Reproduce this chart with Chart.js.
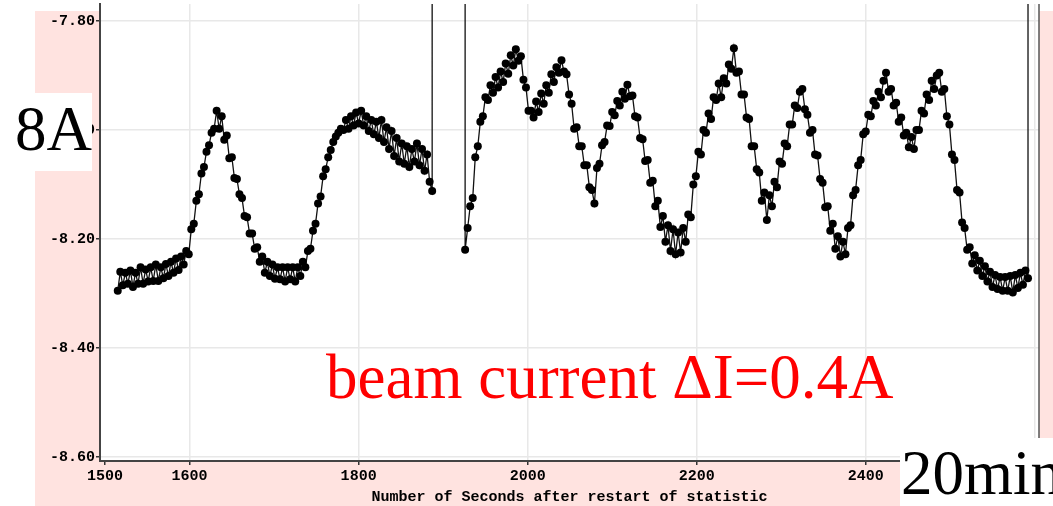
<!DOCTYPE html>
<html>
<head>
<meta charset="utf-8">
<script src="https://cdn.jsdelivr.net/npm/chart.js@4"></script>
<style>
  html, body { margin: 0; padding: 0; background: #fff; }
  #wrap { position: relative; width: 1053px; height: 506px; overflow: hidden; }
  #chart { position: absolute; left: 0; top: 0; }
  .note { position: absolute; font-family: "Liberation Serif", "Times New Roman", serif; font-size: 63px; line-height: 63px; white-space: nowrap; }
  .box { position: absolute; background: #fff; }
</style>
</head>
<body>
<div id="wrap">
  <canvas id="chart" width="1053" height="506"></canvas>
  <div class="box" style="left:0; top:93px; width:92px; height:78px;"></div>
  <div class="note" style="left:15px; top:98px; color:#000;">8A</div>
  <div class="box" style="left:900px; top:438px; width:153px; height:68px;"></div>
  <div class="note" style="left:901px; top:442px; color:#000;">20min</div>
  <div class="note" style="left:326px; top:346px; color:#ff0000;">beam current ΔI=0.4A</div>
</div>
<script>
// seconds after restart, one reading every 3 s
const stepSec = 3;
const seg1Start = 1515;
const seg2Start = 1926;

// beam current readings before the interruption
const seg1Values = [
  -8.295, -8.26, -8.285, -8.262, -8.282, -8.258, -8.288, -8.262, -8.282, -8.252,
  -8.282, -8.256, -8.278, -8.252, -8.277, -8.247, -8.277, -8.252, -8.272, -8.246,
  -8.268, -8.242, -8.262, -8.236, -8.257, -8.232, -8.247, -8.222, -8.228, -8.182,
  -8.172, -8.13, -8.118, -8.08, -8.068, -8.04, -8.028, -8.005, -7.998, -7.965,
  -7.998, -7.975, -8.018, -8.01, -8.052, -8.05, -8.088, -8.09, -8.118, -8.125,
  -8.158, -8.16, -8.19, -8.19, -8.218, -8.215, -8.242, -8.232, -8.262, -8.242,
  -8.268, -8.247, -8.273, -8.252, -8.274, -8.252, -8.278, -8.252, -8.274, -8.252,
  -8.278, -8.252, -8.268, -8.242, -8.252, -8.222, -8.218, -8.185, -8.172, -8.135,
  -8.122, -8.085, -8.072, -8.05, -8.037, -8.022, -8.012, -8.005, -7.998, -8.0,
  -7.982, -7.998, -7.975, -7.992, -7.968, -7.988, -7.965, -7.992, -7.975, -8.002,
  -7.982, -8.008, -7.985, -8.015, -7.982, -8.022, -7.995, -8.035, -8.002, -8.048,
  -8.015, -8.058, -8.025, -8.062, -8.03, -8.068, -8.035, -8.058, -8.025, -8.065,
  -8.035, -8.075, -8.045, -8.095, -8.112
];

// beam current readings after the restart
const seg2Values = [
  -8.22, -8.18, -8.14, -8.125, -8.05, -8.03, -7.985, -7.975, -7.94, -7.945,
  -7.918, -7.932, -7.903, -7.922, -7.893, -7.912, -7.878, -7.897, -7.863, -7.882,
  -7.852, -7.873, -7.865, -7.908, -7.922, -7.965, -7.965, -7.977, -7.948, -7.967,
  -7.933, -7.952, -7.918, -7.932, -7.898, -7.912, -7.885, -7.895, -7.872, -7.893,
  -7.898, -7.935, -7.952, -7.998, -7.995, -8.03, -8.03, -8.065, -8.065, -8.105,
  -8.11, -8.135, -8.07, -8.062, -8.028, -8.022, -7.992, -7.993, -7.967, -7.973,
  -7.947, -7.955, -7.93, -7.943, -7.917, -7.938, -7.937, -7.975, -7.977, -8.015,
  -8.017, -8.057, -8.055, -8.097, -8.093, -8.14, -8.13, -8.178, -8.158, -8.205,
  -8.175, -8.222, -8.182, -8.228, -8.188, -8.225, -8.18, -8.205, -8.155, -8.16,
  -8.1, -8.085, -8.04, -8.045, -8.0, -8.005, -7.97, -7.98, -7.94, -7.945,
  -7.915, -7.94, -7.905, -7.915, -7.88, -7.888, -7.85, -7.895, -7.893, -7.935,
  -7.935, -7.977, -7.98, -8.03, -8.03, -8.072, -8.078, -8.13, -8.115, -8.165,
  -8.12, -8.14, -8.095, -8.105, -8.058, -8.062, -8.025, -8.03, -7.99, -7.99,
  -7.955, -7.96, -7.93, -7.925, -7.962, -7.972, -8.005, -8.0, -8.045, -8.047,
  -8.09, -8.097, -8.142, -8.14, -8.185, -8.172, -8.218, -8.195, -8.232, -8.205,
  -8.228, -8.18, -8.175, -8.12, -8.11, -8.065, -8.055, -8.008, -8.003, -7.972,
  -7.975, -7.947, -7.955, -7.93, -7.94, -7.91, -7.895, -7.93, -7.925, -7.955,
  -7.95, -7.985, -7.977, -8.01, -8.005, -8.032, -8.013, -8.035, -8.0, -8.0,
  -7.965, -7.97, -7.935, -7.945, -7.91, -7.925, -7.9, -7.895, -7.93, -7.925,
  -7.975, -7.99, -8.045, -8.055, -8.11, -8.115, -8.17, -8.18, -8.22, -8.215,
  -8.245, -8.23, -8.258, -8.24, -8.268, -8.25, -8.278, -8.26, -8.288, -8.266,
  -8.292, -8.27, -8.295, -8.27, -8.295, -8.268, -8.298, -8.266, -8.29, -8.262,
  -8.284, -8.258, -8.272
];

// the logger jumps off scale when the statistic is interrupted
const offScale = -7.0;

const xTicks = [1500, 1600, 1800, 2000, 2200, 2400, 2600];
const yTicks = [-8.6, -8.4, -8.2, -8.0, -7.8];

const points = [];
seg1Values.forEach((v, i) => points.push({ x: seg1Start + i * stepSec, y: v }));
const seg1End = seg1Start + (seg1Values.length - 1) * stepSec;
points.push({ x: seg1End, y: offScale });
points.push({ x: seg2Start, y: offScale });
seg2Values.forEach((v, i) => points.push({ x: seg2Start + i * stepSec, y: v }));
const seg2End = seg2Start + (seg2Values.length - 1) * stepSec;
points.push({ x: seg2End, y: offScale });

const tickFont = { family: 'Liberation Mono', size: 15, weight: 'bold' };

// pink panel behind the axes, white plot area, dark right frame
const panel = {
  id: 'panel',
  beforeDraw(chart) {
    const c = chart.ctx, a = chart.chartArea;
    c.save();
    c.fillStyle = '#ffe3e0';
    c.fillRect(35, 11, chart.width - 35, chart.height - 11);
    c.fillStyle = '#ffffff';
    c.fillRect(a.left, a.top, a.right - a.left, a.bottom - a.top);
    c.restore();
  },
  afterDraw(chart) {
    const c = chart.ctx, a = chart.chartArea;
    c.save();
    c.strokeStyle = '#555';
    c.lineWidth = 1.5;
    c.beginPath();
    c.moveTo(a.right, a.top);
    c.lineTo(a.right, a.bottom);
    c.stroke();
    c.restore();
  }
};

new Chart(document.getElementById('chart'), {
  type: 'line',
  data: {
    datasets: [{
      data: points,
      borderColor: '#111',
      borderWidth: 1.3,
      pointRadius: 4,
      pointBackgroundColor: '#000',
      pointBorderWidth: 0,
      tension: 0
    }]
  },
  options: {
    responsive: false,
    animation: false,
    devicePixelRatio: 1,
    layout: { padding: { left: 0, right: 14, top: 0, bottom: 0 } },
    plugins: { legend: { display: false }, tooltip: { enabled: false } },
    scales: {
      x: {
        type: 'linear',
        min: 1494,
        max: 2605,
        afterBuildTicks: s => { s.ticks = xTicks.map(v => ({ value: v })); },
        afterFit: s => { s.height = 45; },
        ticks: {
          font: tickFont,
          color: '#000',
          padding: 2,
          maxRotation: 0,
          autoSkip: false,
          callback: v => (v === 2600 ? '' : String(v))
        },
        grid: {
          color: ctx => (ctx.tick && ctx.tick.value === 1500 ? 'rgba(0,0,0,0)' : '#e8e8e8'),
          lineWidth: 1.5,
          tickColor: '#333',
          tickLength: 4,
          tickWidth: 1.5
        },
        border: { color: '#444', width: 2 },
        title: {
          display: true,
          text: 'Number of Seconds after restart of statistic',
          font: tickFont,
          color: '#000',
          padding: { top: 0, bottom: 0 }
        }
      },
      y: {
        min: -8.6073,
        max: -7.769,
        afterBuildTicks: s => { s.ticks = yTicks.map(v => ({ value: v })); },
        afterFit: s => { s.width = 100; },
        ticks: {
          font: Object.assign({}, tickFont, { lineHeight: 0.05 }),
          color: '#000',
          padding: 1,
          callback: v => v.toFixed(2)
        },
        grid: {
          color: '#e8e8e8',
          lineWidth: 1.5,
          tickColor: '#333',
          tickLength: 4,
          tickWidth: 1.5
        },
        border: { color: '#444', width: 2 }
      }
    }
  },
  plugins: [panel]
});
</script>
</body>
</html>
